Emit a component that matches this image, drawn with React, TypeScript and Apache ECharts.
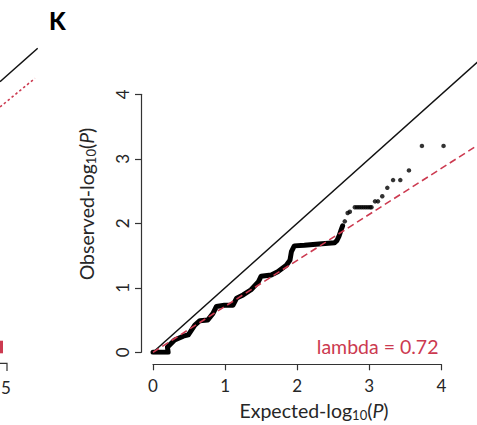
import React, { useEffect, useRef } from "react";
import * as echarts from "echarts";

// ---- data ----
const xTicks = [0, 1, 2, 3, 4];
const yTicks = [0, 1, 2, 3, 4];
const lambdaLabel = "lambda = 0.72";
const panelLabel = "K";

// dense part of the QQ cloud (vertices of the thick run of points)
const denseQQ: [number, number][] = [
  [0, 0], [0.21, 0], [0.2, 0.08], [0.3, 0.19], [0.42, 0.25], [0.49, 0.27],
  [0.58, 0.42], [0.65, 0.49], [0.76, 0.5], [0.83, 0.6], [0.88, 0.71],
  [0.99, 0.73], [1.11, 0.73], [1.16, 0.84], [1.25, 0.89], [1.36, 0.97],
  [1.46, 1.09], [1.5, 1.18], [1.64, 1.2], [1.73, 1.25], [1.85, 1.35],
  [1.9, 1.43], [1.92, 1.56], [1.96, 1.65], [2.1, 1.66], [2.3, 1.68],
  [2.52, 1.7], [2.55, 1.73], [2.58, 1.8], [2.61, 1.9], [2.63, 1.96],
];

// sparse upper tail points
const sparseQQ: [number, number][] = [
  [2.66, 2.03], [2.7, 2.16], [2.73, 2.18], [2.8, 2.25], [2.83, 2.25],
  [2.86, 2.25], [2.89, 2.25], [2.92, 2.25], [2.95, 2.25], [2.98, 2.25],
  [3.01, 2.25], [3.03, 2.25], [3.08, 2.34], [3.12, 2.34], [3.18, 2.42],
  [3.25, 2.55], [3.33, 2.67], [3.43, 2.67], [3.55, 2.82], [3.73, 3.2],
  [4.03, 3.2],
];

// reference lines
const nullLine: [number, number][] = [[0, 0], [5, 5]];
const lambdaSlope = 0.713;
const lambdaLine: [number, number][] = [[0, 0], [5, 5 * lambdaSlope]];

// extent of the (unframed) plotting region, beyond the labelled axis range
const plotXMax = 4.494;
const plotYMax = 4.842;

const FONT = "Lato, 'Open Sans', sans-serif";
const RED = "#cc3a50";
const TXT = "#262626";

export default function App() {
  const ref = useRef<HTMLDivElement>(null);
  useEffect(() => {
    if (!ref.current) return;
    const chart = echarts.init(ref.current, undefined, { renderer: "svg" });
    const axisStyle = {
      axisLine: { show: true, onZero: false, lineStyle: { color: "#333", width: 1.2 } },
      axisTick: { show: true, length: 6, lineStyle: { color: "#333", width: 1.2 } },
      splitLine: { show: false },
    };
    const hidden = {
      axisLine: { show: false },
      axisTick: { show: false },
      axisLabel: { show: false },
      splitLine: { show: false },
    };
    chart.setOption({
      animation: false,
      backgroundColor: "#ffffff",
      grid: [
        // grid holding the labelled axes
        { left: 153, top: 94.3, width: 288.4, height: 258, containLabel: false },
        // grid holding the data (same scale, wider extent)
        { left: 153, top: 40, width: 324, height: 312.3, containLabel: false },
      ],
      xAxis: [
        {
          gridIndex: 0,
          type: "value",
          min: xTicks[0],
          max: xTicks[xTicks.length - 1],
          interval: 1,
          offset: 12,
          ...axisStyle,
          axisLabel: { fontSize: 17, color: TXT, fontFamily: FONT, margin: 13 },
        },
        { gridIndex: 1, type: "value", min: 0, max: plotXMax, ...hidden },
      ],
      yAxis: [
        {
          gridIndex: 0,
          type: "value",
          min: yTicks[0],
          max: yTicks[yTicks.length - 1],
          interval: 1,
          offset: 12,
          ...axisStyle,
          axisLabel: { fontSize: 17, color: TXT, fontFamily: FONT, margin: 10, rotate: 90 },
        },
        { gridIndex: 1, type: "value", min: 0, max: plotYMax, ...hidden },
      ],
      series: [
        {
          name: "dense",
          type: "line",
          xAxisIndex: 1,
          yAxisIndex: 1,
          data: denseQQ,
          symbol: "none",
          z: 2,
          lineStyle: { color: "#000", width: 5, cap: "round", join: "round" },
        },
        {
          name: "sparse",
          type: "scatter",
          xAxisIndex: 1,
          yAxisIndex: 1,
          data: sparseQQ,
          symbol: "circle",
          symbolSize: 4.5,
          z: 2,
          itemStyle: { color: "#000" },
        },
        {
          name: "null",
          type: "line",
          xAxisIndex: 1,
          yAxisIndex: 1,
          data: nullLine,
          symbol: "none",
          clip: true,
          z: 3,
          lineStyle: { color: "#111", width: 1.5 },
        },
        {
          name: "lambda",
          type: "line",
          xAxisIndex: 1,
          yAxisIndex: 1,
          data: lambdaLine,
          symbol: "none",
          clip: true,
          z: 4,
          lineStyle: { color: RED, width: 1.6, type: [7, 4] },
        },
      ],
      graphic: [
        // panel letter
        {
          type: "text",
          left: 49,
          top: 8,
          style: { text: panelLabel, font: `900 24px ${FONT}`, fill: "#000" },
        },
        // lambda annotation
        {
          type: "text",
          x: 438.5,
          y: 346.5,
          style: {
            text: lambdaLabel,
            fill: RED,
            font: `19.5px ${FONT}`,
            align: "right",
            verticalAlign: "middle",
          },
        },
        // x axis title
        {
          type: "text",
          x: 314,
          y: 410,
          style: {
            text: "{a|Expected-log}{s|10}{a|(}{i|P}{a|)}",
            align: "center",
            verticalAlign: "middle",
            rich: {
              a: { fontSize: 19.5, fontFamily: FONT, fill: TXT },
              s: { fontSize: 13, fontFamily: FONT, fill: TXT, padding: [9, 0, 0, 0] },
              i: { fontSize: 19.5, fontFamily: FONT, fill: TXT, fontStyle: "italic" },
            },
          },
        },
        // y axis title
        {
          type: "text",
          x: 86,
          y: 204,
          rotation: Math.PI / 2,
          style: {
            text: "{a|Observed-log}{s|10}{a|(}{i|P}{a|)}",
            align: "center",
            verticalAlign: "middle",
            rich: {
              a: { fontSize: 19.5, fontFamily: FONT, fill: TXT },
              s: { fontSize: 13, fontFamily: FONT, fill: TXT, padding: [9, 0, 0, 0] },
              i: { fontSize: 19.5, fontFamily: FONT, fill: TXT, fontStyle: "italic" },
            },
          },
        },
        // fragment of the neighbouring panel (cropped at the left edge)
        {
          type: "line",
          shape: { x1: 0, y1: 81.7, x2: 37.7, y2: 48.3 },
          style: { stroke: "#111", lineWidth: 1.5 },
        },
        {
          type: "line",
          shape: { x1: 0, y1: 107, x2: 35, y2: 78.3 },
          style: { stroke: RED, lineWidth: 1.6, lineDash: [2.5, 2.5] },
        },
        {
          type: "rect",
          shape: { x: 0, y: 340.7, width: 3, height: 12.6 },
          style: { fill: RED },
        },
        {
          type: "polyline",
          shape: { points: [[0, 363.3], [7, 363.3], [7, 371]] },
          style: { stroke: "#333", lineWidth: 1.2, fill: "none" },
        },
        {
          type: "text",
          x: 6,
          y: 387.5,
          style: { text: "5", font: `17px ${FONT}`, fill: TXT, align: "center", verticalAlign: "middle" },
        },
      ],
    });
    return () => chart.dispose();
  }, []);
  return (
    <div
      ref={ref}
      style={{ position: "fixed", left: 0, top: 0, width: 477, height: 425, background: "#fff" }}
    />
  );
}
